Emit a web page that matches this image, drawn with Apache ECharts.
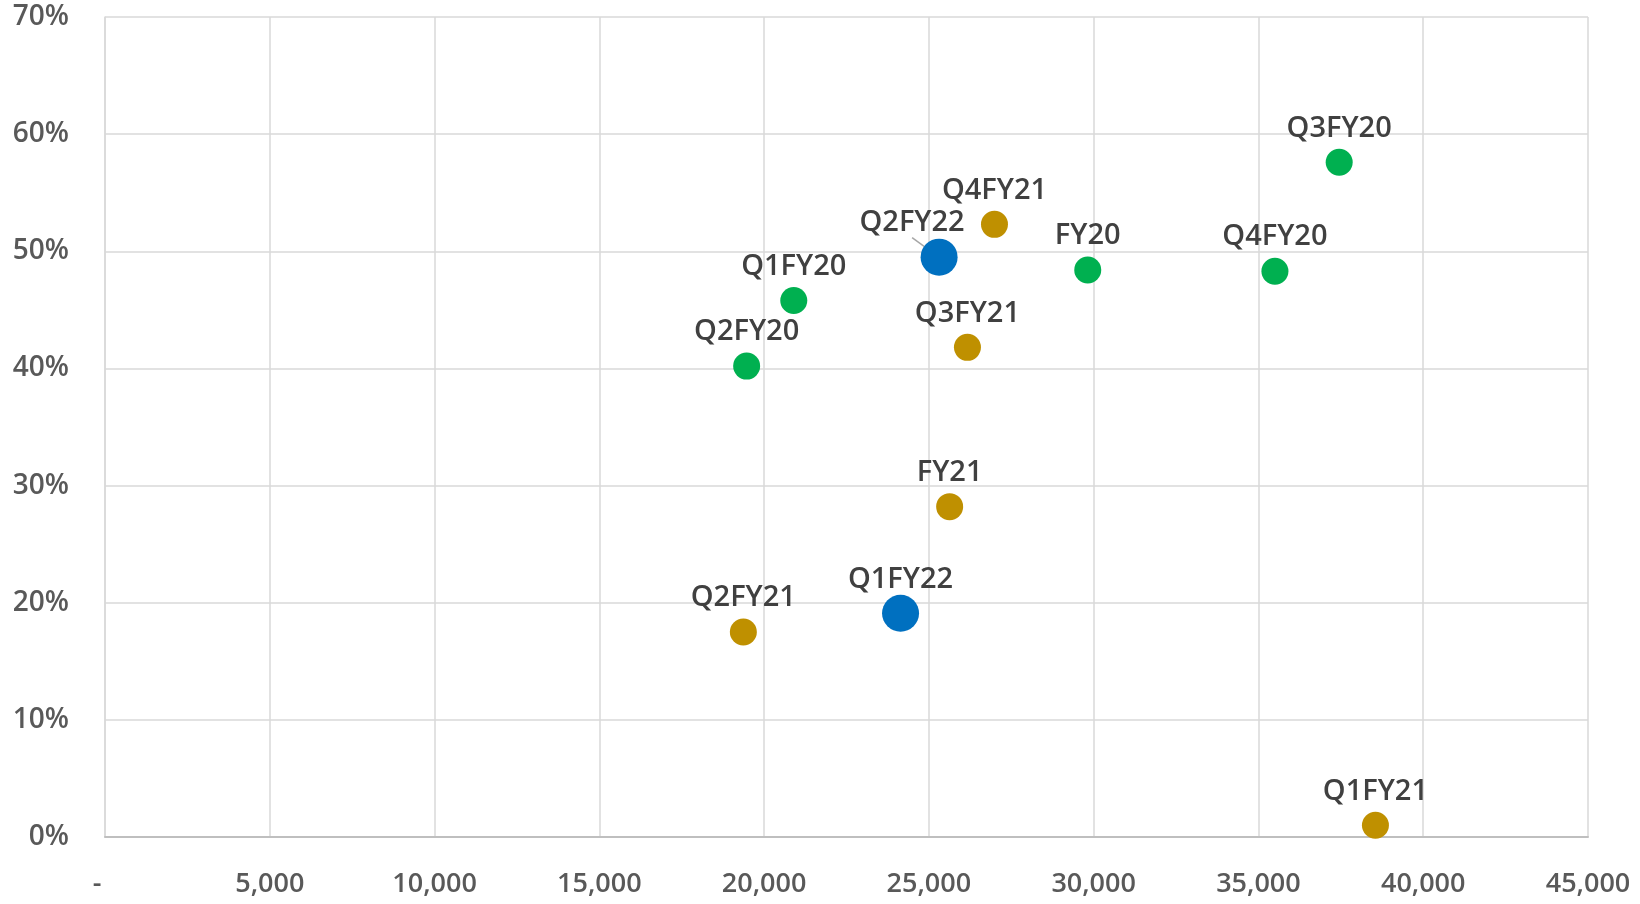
<!DOCTYPE html>
<html>
<head>
<meta charset="utf-8">
<script src="https://cdn.jsdelivr.net/npm/echarts@6/dist/echarts.min.js"></script>
<style>
  html, body { margin: 0; padding: 0; background: #fff; }
  #chart { width: 1640px; height: 904px; }
</style>
</head>
<body>
<div id="chart"></div>
<script>
// 数据：FY20（绿）、FY21（金）、FY22（蓝）
const fy20Names = ['Q1FY20', 'Q2FY20', 'Q3FY20', 'Q4FY20', 'FY20'];
const fy20X = [20900, 19470, 37450, 35500, 29820];
const fy20Y = [0.458, 0.402, 0.576, 0.483, 0.484];

const fy21Names = ['Q1FY21', 'Q2FY21', 'Q3FY21', 'Q4FY21', 'FY21'];
const fy21X = [38550, 19370, 26170, 26990, 25630];
const fy21Y = [0.010, 0.175, 0.418, 0.523, 0.282];

const fy22Names = ['Q1FY22', 'Q2FY22'];
const fy22X = [24140, 25310];
const fy22Y = [0.191, 0.495];

const font = "'Open Sans', 'Noto Sans', sans-serif";

function points(names, xs, ys) {
  return names.map((n, i) => ({ name: n, value: [xs[i], ys[i]] }));
}

const labelStyle = {
  show: true,
  position: 'top',
  formatter: p => p.name,
  color: '#404040',
  fontFamily: font,
  fontWeight: 600,
  fontSize: 29
};

const chart = echarts.init(document.getElementById('chart'));

const fy22Data = points(fy22Names, fy22X, fy22Y);
// Q2FY22 的标签偏左，带引导线
fy22Data[1].labelLine = { show: true, lineStyle: { color: '#a6a6a6', width: 1.5 } };

const option = {
  animation: false,
  grid: { left: 105, right: 52, top: 17, bottom: 67 },
  xAxis: {
    type: 'value',
    min: 0,
    max: 45000,
    interval: 5000,
    axisLine: { show: true, lineStyle: { color: '#bfbfbf', width: 2 } },
    axisTick: { show: false },
    splitLine: { show: true, lineStyle: { color: '#d9d9d9', width: 1.5 } },
    axisLabel: {
      margin: 34,
      color: '#595959',
      fontFamily: font,
      fontWeight: 600,
      fontSize: 27,
      formatter: v => v === 0 ? '{z|-}' : v.toLocaleString('en-US'),
      rich: { z: { fontSize: 27, fontWeight: 600, color: '#595959', fontFamily: font, padding: [0, 16, 0, 0] } }
    }
  },
  yAxis: {
    type: 'value',
    min: 0,
    max: 0.7,
    interval: 0.1,
    axisLine: { show: true, lineStyle: { color: '#d9d9d9', width: 1.5 } },
    axisTick: { show: false },
    splitLine: { show: true, lineStyle: { color: '#d9d9d9', width: 1.5 } },
    axisLabel: {
      margin: 36,
      color: '#595959',
      fontFamily: font,
      fontWeight: 600,
      fontSize: 28,
      formatter: v => Math.round(v * 100) + '%'
    }
  },
  series: [
    {
      name: 'FY20',
      type: 'scatter',
      symbolSize: 27,
      itemStyle: { color: '#00B050', opacity: 1 },
      label: Object.assign({}, labelStyle, { distance: 6 }),
      data: points(fy20Names, fy20X, fy20Y)
    },
    {
      name: 'FY21',
      type: 'scatter',
      symbolSize: 27,
      itemStyle: { color: '#BF9000', opacity: 1 },
      label: Object.assign({}, labelStyle, { distance: 6 }),
      data: points(fy21Names, fy21X, fy21Y)
    },
    {
      name: 'FY22',
      type: 'scatter',
      symbolSize: 37,
      itemStyle: { color: '#0070C0', opacity: 1 },
      label: Object.assign({}, labelStyle, { distance: 1 }),
      labelLayout: p => p.dataIndex === 1 ? { dx: -27, dy: 0 } : {},
      data: fy22Data
    }
  ]
};

chart.setOption(option);
</script>
</body>
</html>
